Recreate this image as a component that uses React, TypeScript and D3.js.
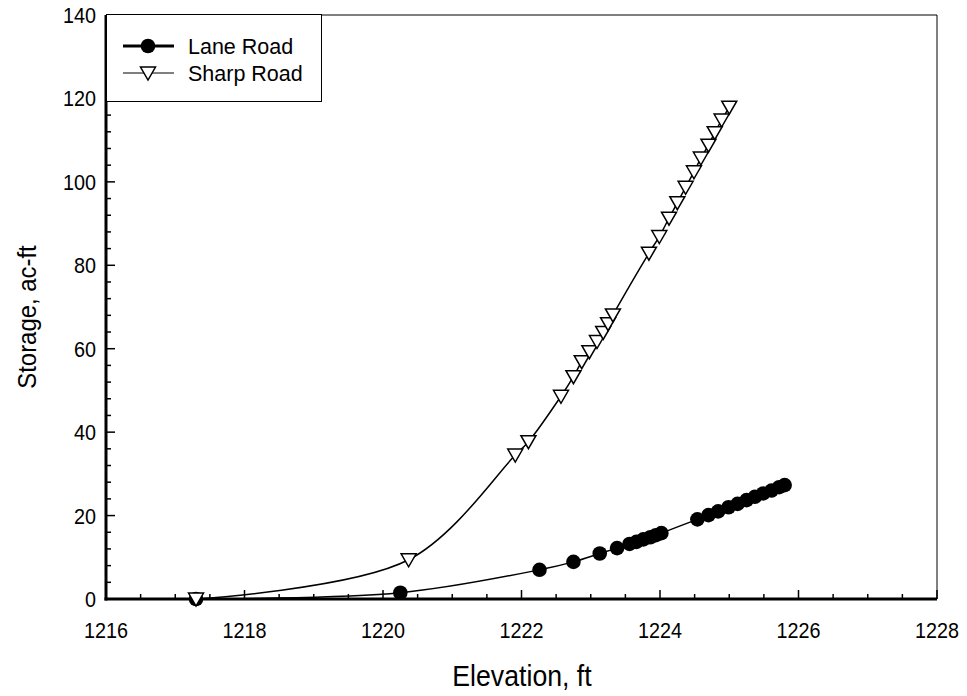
import React from 'react';
import * as d3 from 'd3';

// Lane Road: elevation (ft) vs storage (ac-ft)
const laneElev = [1217.3, 1220.25, 1222.26, 1222.75, 1223.13, 1223.38, 1223.56, 1223.66, 1223.76, 1223.86, 1223.94, 1224.02,
  1224.54, 1224.70, 1224.84, 1224.99, 1225.12, 1225.25, 1225.37, 1225.49, 1225.61, 1225.72, 1225.80];
const laneStor = [0, 1.5, 7.0, 8.9, 10.9, 12.2, 13.2, 13.7, 14.3, 14.8, 15.3, 15.8,
  19.1, 20.1, 21.0, 22.0, 22.8, 23.7, 24.5, 25.3, 26.0, 26.8, 27.3];

// Sharp Road
const sharpElev = [1217.3, 1220.37, 1221.91, 1222.10, 1222.57, 1222.75, 1222.87, 1222.98, 1223.09, 1223.18, 1223.25, 1223.32,
  1223.84, 1223.99, 1224.13, 1224.25, 1224.37, 1224.49, 1224.59, 1224.70, 1224.79, 1224.89, 1225.0];
const sharpStor = [0, 9.4, 34.5, 37.7, 48.6, 53.3, 56.9, 59.3, 61.7, 63.9, 66.0, 68.1,
  82.9, 86.9, 91.3, 95.0, 98.7, 102.4, 105.7, 108.8, 111.8, 114.8, 117.9];

const xTicks = [1216, 1218, 1220, 1222, 1224, 1226, 1228];
const yTicks = [0, 20, 40, 60, 80, 100, 120, 140];

const W = 967;
const H = 696;
const left = 106, right = 937, top = 15, bottom = 599;
const font = 'Liberation Sans, Arial, sans-serif';

const triPath = 'M-7.5,-6L7.5,-6L0,7Z';

export default function App() {
  const x = d3.scaleLinear().domain([1216, 1228]).range([left, right]);
  const y = d3.scaleLinear().domain([0, 140]).range([bottom, top]);

  const lanePts: [number, number][] = laneElev.map((e, i) => [x(e), y(laneStor[i])]);
  const sharpPts: [number, number][] = sharpElev.map((e, i) => [x(e), y(sharpStor[i])]);
  const path = d3.line().curve(d3.curveCatmullRom.alpha(0.5));

  const xMinor = d3.range(1216, 1228.001, 0.5).filter(v => !xTicks.includes(v));
  const yMinor = d3.range(0, 140.001, 4).filter(v => v % 20 !== 0);

  return (
    <svg width={W} height={H} style={{ position: 'absolute', left: 0, top: 0, background: '#fff' }}>
      <rect x={0} y={0} width={W} height={H} fill="#fff" />
      {/* frame */}
      <line x1={left} x2={right} y1={top} y2={top} stroke="#000" strokeWidth={1} />
      <line x1={right} x2={right} y1={top} y2={bottom} stroke="#000" strokeWidth={1} />

      {/* curves */}
      <path d={path(lanePts) || ''} fill="none" stroke="#000" strokeWidth={1.5} />
      <path d={path(sharpPts) || ''} fill="none" stroke="#000" strokeWidth={1.5} />

      {/* x ticks */}
      {xTicks.map(t => (
        <g key={'xt' + t}>
          <line x1={x(t)} x2={x(t)} y1={bottom} y2={bottom - 9} stroke="#000" strokeWidth={1.5} />
          <text transform={`translate(${x(t)},638) scale(0.9,1)`} textAnchor="middle" fontFamily={font} fontSize={22}>{t}</text>
        </g>
      ))}
      {xMinor.map(t => (
        <line key={'xm' + t} x1={x(t)} x2={x(t)} y1={bottom} y2={bottom - 5} stroke="#000" strokeWidth={1.5} />
      ))}
      {/* y ticks */}
      {yTicks.map(t => (
        <g key={'yt' + t}>
          <line x1={left} x2={left + 9} y1={y(t)} y2={y(t)} stroke="#000" strokeWidth={1.5} />
          <text transform={`translate(96,${y(t) + 8}) scale(0.9,1)`} textAnchor="end" fontFamily={font} fontSize={22}>{t}</text>
        </g>
      ))}
      {yMinor.map(t => (
        <line key={'ym' + t} x1={left} x2={left + 5} y1={y(t)} y2={y(t)} stroke="#000" strokeWidth={1.5} />
      ))}

      {/* axes */}
      <line x1={left} x2={left} y1={top} y2={bottom + 1.5} stroke="#000" strokeWidth={3} />
      <line x1={left - 1.5} x2={right} y1={bottom} y2={bottom} stroke="#000" strokeWidth={3} />

      {/* markers */}
      {lanePts.map((p, i) => (
        <circle key={'l' + i} cx={p[0]} cy={p[1]} r={7.3} fill="#000" />
      ))}
      {sharpPts.map((p, i) => (
        <path key={'s' + i} d={triPath} transform={`translate(${p[0]},${p[1]})`} fill="#fff" stroke="#000" strokeWidth={1.5} />
      ))}

      {/* legend */}
      <rect x={106.5} y={14.5} width={215} height={87} fill="#fff" stroke="#000" strokeWidth={1} />
      <line x1={123} x2={174} y1={46} y2={46} stroke="#000" strokeWidth={3} />
      <circle cx={148} cy={46} r={7.3} fill="#000" />
      <text x={188} y={54} fontFamily={font} fontSize={21.5}>Lane Road</text>
      <line x1={123} x2={174} y1={73} y2={73} stroke="#000" strokeWidth={1} />
      <path d={triPath} transform="translate(148,73)" fill="#fff" stroke="#000" strokeWidth={1.5} />
      <text x={188} y={81} fontFamily={font} fontSize={21.5}>Sharp Road</text>

      {/* axis titles */}
      <text transform="translate(522,686) scale(0.92,1)" textAnchor="middle" fontFamily={font} fontSize={29}>Elevation, ft</text>
      <text transform="translate(36,317) rotate(-90) scale(0.92,1)" textAnchor="middle" fontFamily={font} fontSize={26}>Storage, ac-ft</text>
    </svg>
  );
}
